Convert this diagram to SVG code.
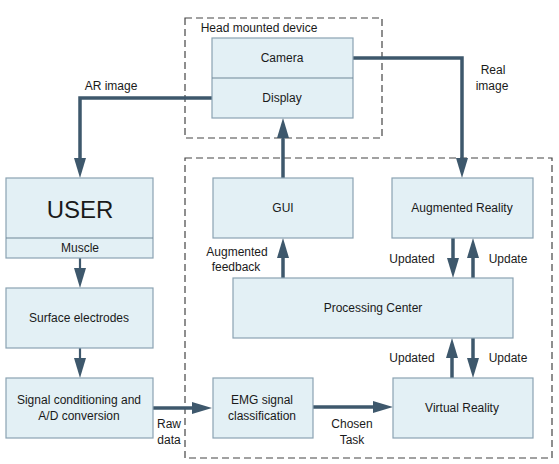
<svg xmlns="http://www.w3.org/2000/svg" width="559" height="464" viewBox="0 0 559 464">
<defs>
<style>
.box{fill:#e3f0f5;stroke:#8aa2b2;stroke-width:1.2}
.div{stroke:#6f8797;stroke-width:1}
.dash{fill:none;stroke:#444;stroke-width:1.2;stroke-dasharray:7,4}
.t{font-family:"Liberation Sans",Arial,sans-serif;font-size:12px;fill:#1a1a1a;text-anchor:middle}
.big{font-size:24px}
.c{fill:none;stroke:#3e586c;stroke-width:3.5}
.thin{stroke-width:2.2}
</style>
<marker id="a" viewBox="0 0 20 12" refX="0" refY="6" markerWidth="20" markerHeight="12" markerUnits="userSpaceOnUse" orient="auto">
<path d="M0,0 L20,6 L0,12 z" fill="#3e586c"/>
</marker>
</defs>
<rect width="559" height="464" fill="#fff"/>
<g id="containers">
<rect class="dash" x="185" y="18" width="197" height="120"/>
<text class="t" x="259" y="32">Head mounted device</text>
<rect class="dash" x="185" y="158" width="367" height="300"/>
</g>
<g id="connectors">
<path class="c" d="M212,98 H80 V158" marker-end="url(#a)"/>
<text class="t" x="111" y="90">AR image</text>
<path class="c" d="M353,58 H462 V158" marker-end="url(#a)"/>
<text class="t" x="493" y="74">Real</text>
<text class="t" x="492" y="90">image</text>
<path class="c" d="M283,278 V258" marker-end="url(#a)"/>
<text class="t" x="237" y="256">Augmented</text>
<text class="t" x="236" y="271">feedback</text>
<path class="c" d="M283,178 V138" marker-end="url(#a)"/>
<path class="c" d="M453,238 V258" marker-end="url(#a)"/>
<path class="c" d="M473,278 V258" marker-end="url(#a)"/>
<text class="t" x="412" y="263">Updated</text>
<text class="t" x="508" y="263">Update</text>
<path class="c" d="M452,378 V358" marker-end="url(#a)"/>
<path class="c" d="M473,338 V358" marker-end="url(#a)"/>
<text class="t" x="412" y="362">Updated</text>
<text class="t" x="508" y="362">Update</text>
<path class="c thin" d="M80,258 V268" marker-end="url(#a)"/>
<path class="c thin" d="M80,348 V358" marker-end="url(#a)"/>
<path class="c" d="M153,408 H192" marker-end="url(#a)"/>
<text class="t" x="169" y="428">Raw</text>
<text class="t" x="169" y="444">data</text>
<path class="c" d="M313,407 H373" marker-end="url(#a)"/>
<text class="t" x="352" y="428">Chosen</text>
<text class="t" x="352" y="444">Task</text>
</g>
<g id="hmd">
<rect class="box" x="212" y="38" width="141" height="80"/>
<line class="div" x1="212" y1="78" x2="353" y2="78"/>
<text class="t" x="282" y="62">Camera</text>
<text class="t" x="282" y="102">Display</text>
</g>
<g id="user">
<rect class="box" x="6" y="178" width="147" height="80"/>
<line class="div" x1="6" y1="238" x2="153" y2="238"/>
<text class="t big" x="80" y="218">USER</text>
<text class="t" x="80" y="252">Muscle</text>
</g>
<g id="surface">
<rect class="box" x="6" y="288" width="147" height="60"/>
<text class="t" x="79" y="322">Surface electrodes</text>
</g>
<g id="signal">
<rect class="box" x="6" y="378" width="147" height="60"/>
<text class="t" x="79" y="404">Signal conditioning and</text>
<text class="t" x="79" y="420">A/D conversion</text>
</g>
<g id="gui">
<rect class="box" x="213" y="178" width="140" height="60"/>
<text class="t" x="283" y="212">GUI</text>
</g>
<g id="ar">
<rect class="box" x="392" y="178" width="141" height="60"/>
<text class="t" x="462" y="212">Augmented Reality</text>
</g>
<g id="processing">
<rect class="box" x="233" y="278" width="280" height="60"/>
<text class="t" x="373" y="312">Processing Center</text>
</g>
<g id="emg">
<rect class="box" x="213" y="378" width="100" height="60"/>
<text class="t" x="262" y="404">EMG signal</text>
<text class="t" x="262" y="420">classification</text>
</g>
<g id="vr">
<rect class="box" x="393" y="378" width="140" height="60"/>
<text class="t" x="462" y="412">Virtual Reality</text>
</g>
</svg>
